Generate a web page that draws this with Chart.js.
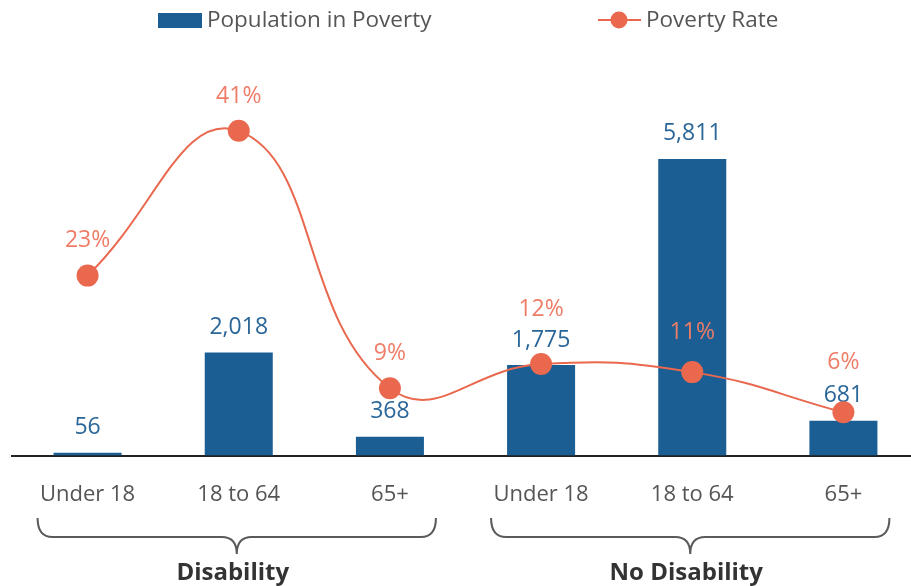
<!DOCTYPE html>
<html>
<head>
<meta charset="utf-8">
<script src="https://cdn.jsdelivr.net/npm/chart.js@4.4.1/dist/chart.umd.min.js"></script>
<style>
  html, body { margin:0; padding:0; background:#fff; overflow:hidden; }
  #wrap { width:930px; height:586px; }
</style>
</head>
<body>
<div id="wrap"><canvas id="chart" width="930" height="586"></canvas></div>
<script>
// =======================
// Data
const ageLabels = ["Under 18", "18 to 64", "65+", "Under 18", "18 to 64", "65+"];
const groupNames = ["Disability", "No Disability"];
const groupSpans = [[0, 2], [3, 5]];
const populationInPoverty = [56, 2018, 368, 1775, 5811, 681];
const povertyRate = [23, 41, 9, 12, 11, 6];

// =======================
// Style
const BLUE = "#1b5e93";
const BLUE_TEXT = "#2b6699";
const ORANGE = "#e9684e";
const ORANGE_TEXT = "#ef7c66";
const GREY = "#555";
const FONT = "'Open Sans', 'Noto Sans', sans-serif";
// how far each rate label sits above its point
const rateLift = [35, 34, 35, 55, 40, 50];

// =======================
// Labels drawn right after each dataset
const valueLabels = {
  id: "valueLabels",
  afterDatasetDraw(chart, args) {
    const ctx = chart.ctx;
    const meta = args.meta;
    ctx.save();
    ctx.textAlign = "center";
    ctx.textBaseline = "middle";
    ctx.font = "23px " + FONT;
    if (meta.type === "bar") {
      ctx.fillStyle = BLUE_TEXT;
      meta.data.forEach((el, i) => {
        ctx.fillText(populationInPoverty[i].toLocaleString("en-US"), el.x, el.y - 25);
      });
    } else {
      ctx.fillStyle = ORANGE_TEXT;
      meta.data.forEach((el, i) => {
        ctx.fillText(povertyRate[i] + "%", el.x, el.y - rateLift[i]);
      });
    }
    ctx.restore();
  }
};

// =======================
// Legend + group brackets
const extras = {
  id: "extras",
  afterDraw(chart) {
    const ctx = chart.ctx;
    const x = chart.scales.x;
    ctx.save();

    // legend
    ctx.font = "22.5px " + FONT;
    ctx.textBaseline = "middle";
    ctx.textAlign = "left";
    ctx.fillStyle = BLUE;
    ctx.fillRect(158, 13, 44, 15);
    ctx.fillStyle = GREY;
    ctx.fillText("Population in Poverty", 207, 21);
    ctx.strokeStyle = ORANGE;
    ctx.lineWidth = 2;
    ctx.beginPath(); ctx.moveTo(598, 20); ctx.lineTo(641, 20); ctx.stroke();
    ctx.fillStyle = ORANGE;
    ctx.beginPath(); ctx.arc(619, 20, 8.5, 0, Math.PI * 2); ctx.fill();
    ctx.fillStyle = GREY;
    ctx.fillText("Poverty Rate", 646, 21);

    // brackets
    const top = 518, mid = 537, tip = 554, r = 10;
    ctx.strokeStyle = "#5a5a5a";
    ctx.lineWidth = 2;
    groupSpans.forEach((span, g) => {
      const x0 = x.getPixelForValue(span[0]) - 50;
      const x1 = x.getPixelForValue(span[1]) + 46;
      const cx = (x0 + x1) / 2;
      ctx.beginPath();
      ctx.moveTo(x0, top);
      ctx.quadraticCurveTo(x0, mid, x0 + r * 1.5, mid);
      ctx.lineTo(cx - r * 1.5, mid);
      ctx.quadraticCurveTo(cx, mid, cx, tip);
      ctx.quadraticCurveTo(cx, mid, cx + r * 1.5, mid);
      ctx.lineTo(x1 - r * 1.5, mid);
      ctx.quadraticCurveTo(x1, mid, x1, top);
      ctx.stroke();

      ctx.fillStyle = "#333";
      ctx.font = "bold 24px " + FONT;
      ctx.textAlign = "center";
      ctx.fillText(groupNames[g], cx - 4, 573);
    });
    ctx.restore();
  }
};

// =======================
// Chart
new Chart(document.getElementById("chart"), {
  data: {
    labels: ageLabels,
    datasets: [
      {
        type: "line",
        label: "Poverty Rate",
        data: povertyRate,
        yAxisID: "y1",
        borderColor: ORANGE,
        backgroundColor: ORANGE,
        borderWidth: 2,
        pointRadius: 11,
        pointHoverRadius: 11,
        pointBorderWidth: 0,
        tension: 0.45,
        order: 0
      },
      {
        type: "bar",
        label: "Population in Poverty",
        data: populationInPoverty,
        yAxisID: "y",
        backgroundColor: BLUE,
        barPercentage: 0.9,
        categoryPercentage: 0.5,
        order: 1
      }
    ]
  },
  options: {
    responsive: false,
    animation: false,
    layout: { padding: { top: 50, left: 12, right: 8, bottom: 60 } },
    plugins: { legend: { display: false }, tooltip: { enabled: false } },
    scales: {
      x: {
        grid: { display: false },
        border: { display: true, color: "#222", width: 2 },
        ticks: { color: GREY, font: { family: FONT, size: 22 }, padding: 18 }
      },
      y: { display: false, min: 0, max: 7945 },
      y1: { display: false, min: 0.62, max: 51.05 }
    }
  },
  plugins: [valueLabels, extras]
});
</script>
</body>
</html>
